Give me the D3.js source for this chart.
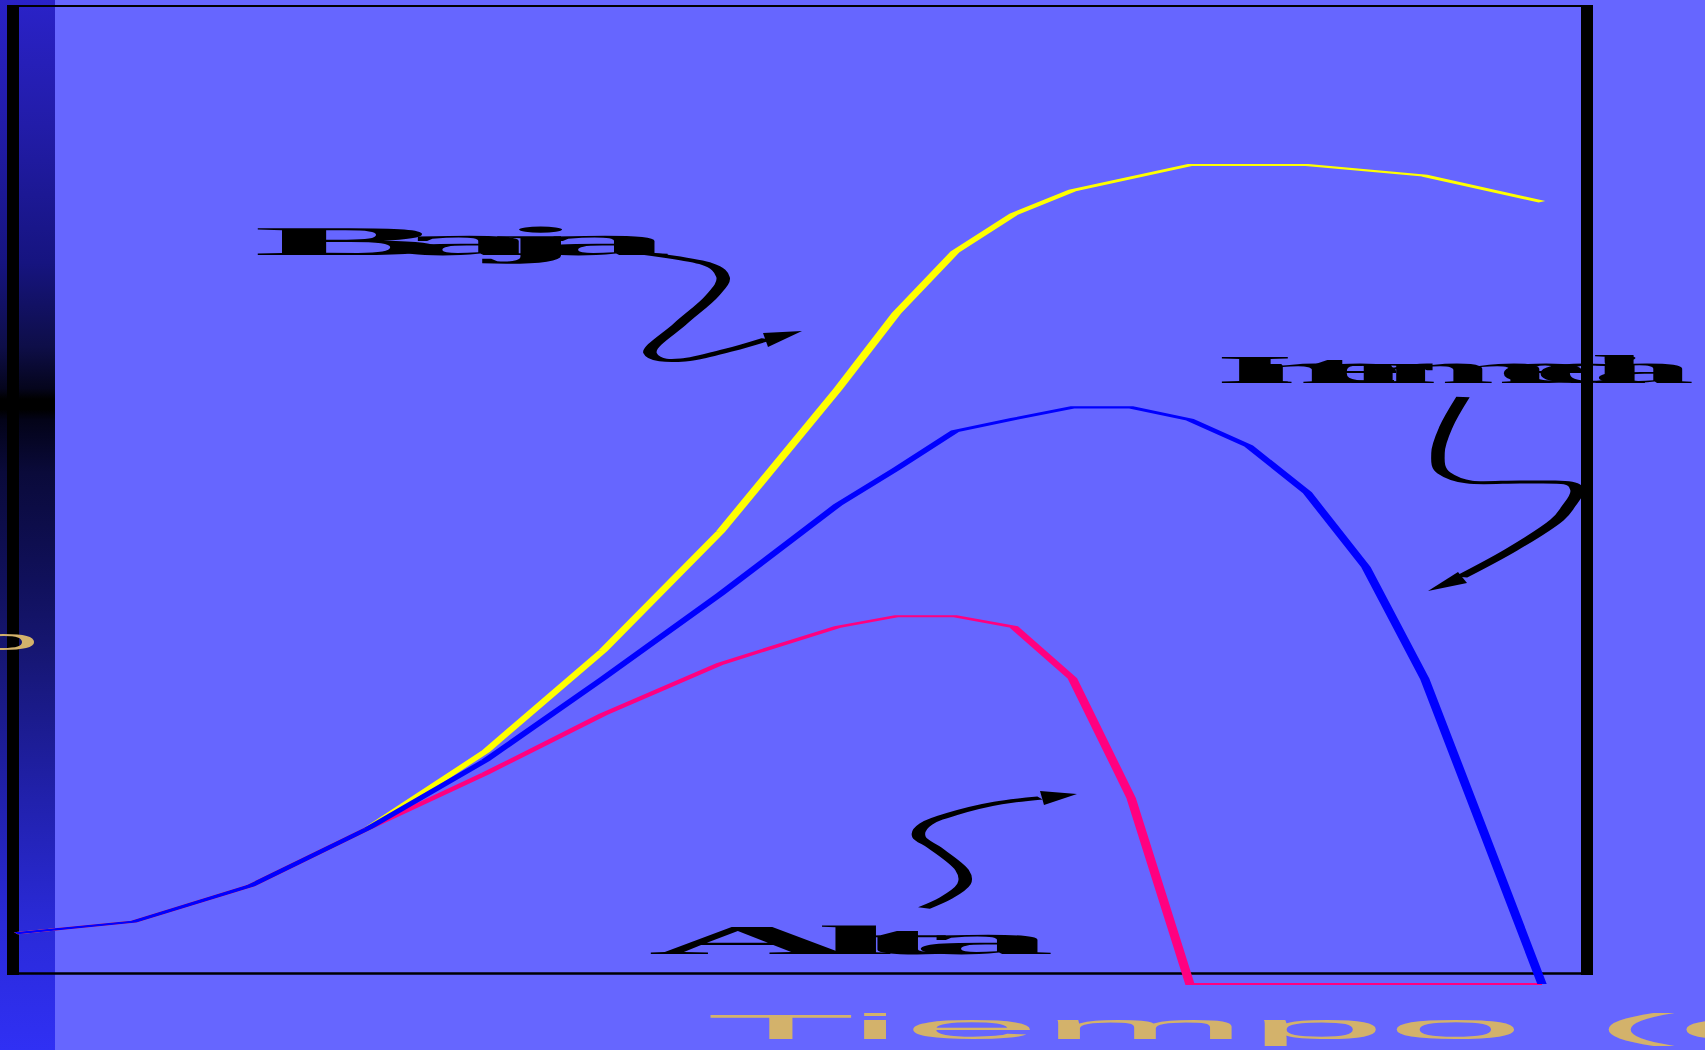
<!DOCTYPE html>
<html><head><meta charset="utf-8">
<script src="https://cdn.jsdelivr.net/npm/d3@7"></script>
<style>html,body{margin:0;padding:0;background:#6666ff;overflow:hidden}svg{display:block}</style>
</head><body>
<svg id="c" width="1705" height="1050"></svg>
<script>
// ---------- data ----------
const daysAll    = [0,2,4,6,8,10,12,14,15,16,17,18,19,20,21,22,23,24,25,26];
const daysYellow = [0,2,4,6,8,10,12,14,15,16,17,18,20,22,24,26];
const yellowValues = [6.2,7.6,12,19,28.4,40.7,55.2,72.6,81.9,89.4,94,96.9,100,100,98.7,95.5];
const blueValues   = [6.2,7.6,12,19,27.3,37.3,47.6,58.5,62.9,67.5,69,70.4,70.4,68.9,65.7,60,50.9,37.3,18.7,0];
const pinkValues   = [6.2,7.6,12,19,25.7,32.9,39.1,43.6,44.9,44.9,43.6,37.3,22.7,0,0,0,0,0,0,0];
const labelTexts = ["Baja", "Intermedia", "Alta"];
const xTitle = "Tiempo (días)";
const yTitle = "o";

// annotation arrows (pixel paths)
const arrowBaja = [[642,253],[707,264],[723,277],[712,296],[680,324],[650,353],[663,360],[683,360],[729,350],[767,339]];
const headBaja  = [[802,331],[763,333],[768,347]];
const arrowInter = [[1463,397],[1446,427],[1438,453],[1444,473],[1469,482],[1522,482],[1568,483],[1577,490],[1568,507],[1557,520],[1511,550],[1461,577]];
const headInter  = [[1428,591],[1458,572],[1467,583]];
const arrowAlta = [[924,908],[946,898],[964,884],[962,870],[935,848],[919,837],[926,824],[952,814],[998,803],[1040,798]];
const headAlta  = [[1077,794],[1040,791],[1044,805]];

// ---------- drawing ----------
const svg = d3.select('#c');
const W = 1705, H = 1050, SX = 4.5;

svg.append('rect').attr('width',W).attr('height',H).attr('fill','#6666ff');

const defs = svg.append('defs');
const grad = defs.append('linearGradient').attr('id','strip').attr('x1',0).attr('y1',0).attr('x2',0).attr('y2',1);
[[0,'#2a22c8'],[0.12,'#221ca8'],[0.25,'#161480'],[0.33,'#0e0e48'],[0.37,'#05051c'],[0.38,'#000000'],[0.39,'#000000'],
 [0.40,'#030318'],[0.45,'#0a0a3a'],[0.55,'#10105a'],[0.62,'#161672'],[0.75,'#2020a8'],[0.88,'#2a2ad8'],[1,'#3030f4']]
 .forEach(([o,c]) => grad.append('stop').attr('offset',o).attr('stop-color',c));
svg.append('rect').attr('x',0).attr('y',0).attr('width',55).attr('height',H).attr('fill','url(#strip)');

// frame
svg.append('line').attr('x1',7).attr('x2',1593).attr('y1',6).attr('y2',6).attr('stroke','#000').attr('stroke-width',2);
svg.append('line').attr('x1',7).attr('x2',1593).attr('y1',973.5).attr('y2',973.5).attr('stroke','#000').attr('stroke-width',2.5);
svg.append('rect').attr('x',7).attr('y',5).attr('width',12).attr('height',970).attr('fill','#000');
svg.append('rect').attr('x',1581).attr('y',5).attr('width',12).attr('height',970).attr('fill','#000');

// scales
const x = d3.scaleLinear().domain([0,26]).range([16,1542]);
const y = d3.scaleLinear().domain([0,100]).range([984,165]);

// anisotropic group (thick on steep segments, thin on flat ones)
const g = svg.append('g').attr('transform',`scale(${SX},1)`);
const line = d3.line().x(d => x(d[0])/SX).y(d => y(d[1]));
const series = [
  {days: daysYellow, vals: yellowValues, color:'#ffff00'},
  {days: daysAll, vals: pinkValues, color:'#ff0080'},
  {days: daysAll, vals: blueValues, color:'#0000ff'}
];
series.forEach(s => {
  g.append('path').datum(s.days.map((d,i)=>[d,s.vals[i]]))
    .attr('d', line).attr('fill','none').attr('stroke',s.color).attr('stroke-width',2.1)
    .attr('stroke-linejoin','miter');
});

// arrows
const aline = d3.line().x(d => d[0]/SX).y(d => d[1]).curve(d3.curveCatmullRom.alpha(0.5));
[arrowBaja, arrowInter, arrowAlta].forEach(a => {
  g.append('path').attr('d', aline(a)).attr('fill','none').attr('stroke','#000').attr('stroke-width',3);
});
[headBaja, headInter, headAlta].forEach(h => {
  svg.append('polygon').attr('points', h.map(p=>p.join(',')).join(' ')).attr('fill','#000');
});

// stretched labels
function stretched(txt, left, right, baseline, sx, size) {
  const t = svg.append('text')
    .attr('font-family','"Liberation Serif","Times New Roman",serif')
    .attr('font-weight','bold').attr('font-size',size).attr('fill','#000')
    .attr('x',0).attr('y',0).text(txt);
  const natural = t.node().getComputedTextLength();
  const target = (right-left)/sx;
  const ls = (target - natural)/(txt.length-1);
  t.attr('letter-spacing', ls)
   .attr('transform', `translate(${left},${baseline}) scale(${sx},1)`);
  return t;
}
stretched(labelTexts[0], 253, 672, 255, 7, 41);
stretched(labelTexts[1], 1215, 1695, 383, 5, 41);
stretched(labelTexts[2], 648, 1055, 954, 7, 41);

// axis titles
svg.append('text').attr('font-family','"Liberation Sans",Arial,sans-serif').attr('font-size',35)
  .attr('fill','#d3b26b').attr('transform','translate(705,1039) scale(7.1,1)').text(xTitle);
svg.append('text').attr('font-family','"Liberation Sans",Arial,sans-serif').attr('font-size',29)
  .attr('fill','#d3b26b').attr('text-anchor','end')
  .attr('transform','translate(0,650) scale(4.5,1)').attr('x',8.8).text(yTitle);
</script>
</body></html>
